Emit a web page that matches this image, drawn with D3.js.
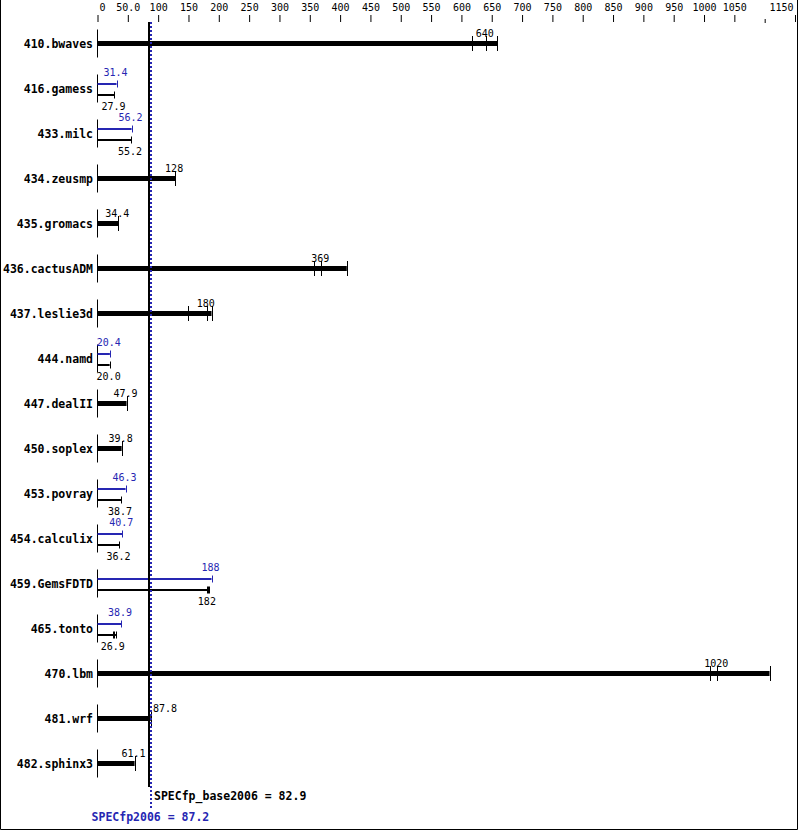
<!DOCTYPE html>
<html><head><meta charset="utf-8">
<script src="https://cdn.jsdelivr.net/npm/d3@7"></script>
<style>body{margin:0;background:#fff}</style>
</head><body><script>
// ---- data ----
const benchmarks = ["410.bwaves","416.gamess","433.milc","434.zeusmp","435.gromacs","436.cactusADM","437.leslie3d","444.namd","447.dealII","450.soplex","453.povray","454.calculix","459.GemsFDTD","465.tonto","470.lbm","481.wrf","482.sphinx3"];
// base runs (ratio per run)
const baseRuns = [
  [618, 640, 659],
  [27.9],
  [55.2],
  [128],
  [34.4],
  [357, 369, 411],
  [149, 180, 188],
  [20.0],
  [47.9],
  [39.8],
  [38.7],
  [36.2],
  [180, 182, 183.5],
  [26.1, 26.9, 30.4],
  [1010, 1022, 1108],
  [87.8],
  [61.1]
];
// peak runs (null where peak is not shown separately)
const peakRuns = [
  null, [31.4], [56.2], null, null, null, null, [20.4], null, null,
  [46.3], [40.7], [188], [38.9], null, null, null
];
const tickValues = [0,50,100,150,200,250,300,350,400,450,500,550,600,650,700,750,800,850,900,950,1000,1050,1100,1150];
const tickLabels = ["0","50.0","100","150","200","250","300","350","400","450","500","550","600","650","700","750","800","850","900","950","1000","1050","","1150"];
const baseScore = 82.9;
const peakScore = 87.2;
const baseName = "SPECfp_base2006";
const peakName = "SPECfp2006";

// ---- drawing ----
const W = 799, H = 831;
const BLUE = "#2626b2";
const MONO = "'DejaVu Sans Mono', monospace";
const svg = d3.select("body").append("svg").attr("width", W).attr("height", H)
  .style("display","block");

svg.append("rect").attr("width", W).attr("height", H).attr("fill", "#fff");
// frame (left, right, bottom)
svg.append("path").attr("d", `M0.5,0V829.5H797.5V0`).attr("fill","none").attr("stroke","#000");

const x = d3.scaleLinear().domain([0, 1150]).range([97.5, 795]);
const y = d3.scaleBand().domain(benchmarks).range([21, 786]);
const cy = d => y(d) + y.bandwidth() / 2;
const px = v => Math.round(x(v)) + 0.5;

// axis
const axis = d3.axisTop(x).tickValues(tickValues)
  .tickFormat((d, i) => tickLabels[i]).tickSize(7).tickPadding(4);
const ax = svg.append("g").attr("transform", "translate(0,22)").call(axis);
ax.select(".domain").remove();
ax.selectAll(".tick text").attr("font-family", MONO).attr("font-size", 10).attr("fill", "#000")
  .each(function(d, i) {
    const t = d3.select(this);
    const w = tickLabels[i].length * 6.02;
    const pos = x(d);
    if (pos - w / 2 < 99) t.attr("text-anchor", "start").attr("x", 99 - pos);
    else if (pos + w / 2 > 793) t.attr("text-anchor", "end").attr("x", 793 - pos);
  });
ax.selectAll(".tick line").attr("stroke", "#000")
  .filter((d, i) => tickLabels[i] === "").attr("y1", 1).attr("y2", -3);

const median = a => d3.median(a);
const fmt = d3.format(".3r");
const bx0 = Math.round(x(baseScore)), bx1 = Math.round(x(peakScore)) + 2;

function label(g, v, yy, color) {
  const t = fmt(v);
  const w = t.length * 6.02;
  let cx = x(v) - 1;
  let anchor = "middle";
  if (cx + w / 2 > bx0 - 1 && cx - w / 2 < bx1 + 1) { cx = bx1 + 1; anchor = "start"; }
  g.append("text").attr("x", cx).attr("y", yy).attr("text-anchor", anchor)
    .attr("font-family", MONO).attr("font-size", 10).attr("fill", color).text(t);
}

benchmarks.forEach((b, i) => {
  const c = cy(b);
  const g = svg.append("g");
  g.append("text").attr("x", 93).attr("y", c + 4).attr("text-anchor", "end")
    .attr("font-family", MONO).attr("font-weight", "bold").attr("font-size", 11.5)
    .attr("fill", "#000").text(b);
  g.append("line").attr("x1", 97.5).attr("x2", 97.5).attr("y1", c - 14).attr("y2", c + 14)
    .attr("stroke", "#000");
  const base = baseRuns[i], peak = peakRuns[i];
  if (!peak) {
    g.append("rect").attr("x", x(0)).attr("y", c - 2.5)
      .attr("width", x(d3.max(base)) - x(0)).attr("height", 5).attr("fill", "#000");
    base.forEach(v => g.append("line").attr("x1", px(v)).attr("x2", px(v))
      .attr("y1", c - 7.5).attr("y2", c + 7.5).attr("stroke", "#000"));
    label(g, median(base), c - 7, "#000");
  } else {
    const series = [[peak, c - 4.5, BLUE, c - 12.5], [base, c + 6.5, "#000", c + 21]];
    series.forEach(([runs, yy, col, ly]) => {
      g.append("rect").attr("x", x(0)).attr("y", yy - 1)
        .attr("width", x(d3.max(runs)) - x(0)).attr("height", 2).attr("fill", col);
      runs.forEach(v => g.append("line").attr("x1", px(v)).attr("x2", px(v))
        .attr("y1", yy - 3.5).attr("y2", yy + 3.5).attr("stroke", col));
      label(g, median(runs), ly, col);
    });
  }
});

// reference lines
svg.append("rect").attr("x", bx0).attr("y", 22).attr("width", 2).attr("height", 765).attr("fill", "#000");
svg.append("line").attr("x1", bx0 + 3).attr("x2", bx0 + 3).attr("y1", 22).attr("y2", 808)
  .attr("stroke", BLUE).attr("stroke-width", 2).attr("stroke-dasharray", "2,2");

svg.append("text").attr("x", bx0 + 6).attr("y", 799.5)
  .attr("font-family", MONO).attr("font-weight", "bold").attr("font-size", 11.5).attr("fill", "#000")
  .text(`${baseName} = ${baseScore}`);
svg.append("text").attr("x", x(peakScore)).attr("y", 821).attr("text-anchor", "middle")
  .attr("font-family", MONO).attr("font-weight", "bold").attr("font-size", 11.5).attr("fill", BLUE)
  .text(`${peakName} = ${peakScore}`);
</script></body></html>
